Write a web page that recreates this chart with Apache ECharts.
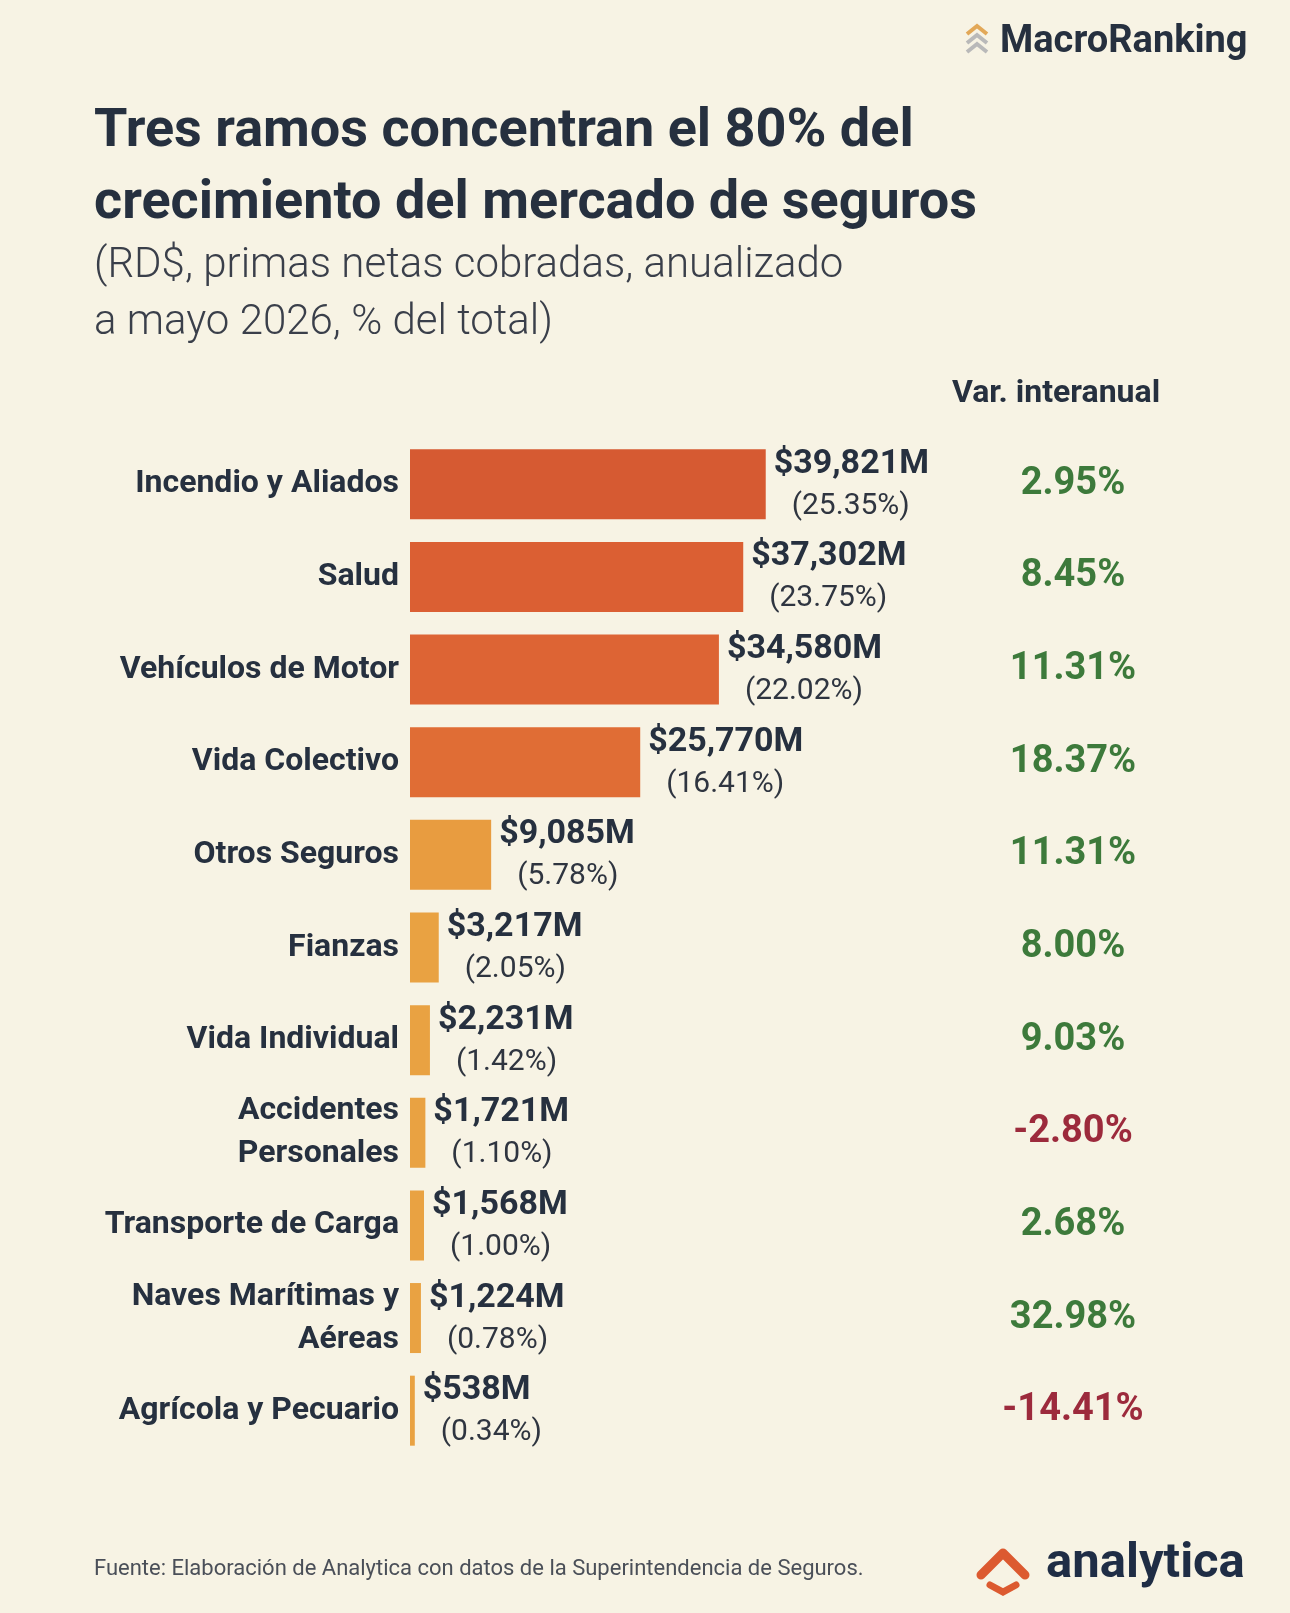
<!DOCTYPE html>
<html>
<head>
<meta charset="utf-8">
<script src="https://cdn.jsdelivr.net/npm/echarts@6/dist/echarts.min.js"></script>
<style>
  html, body { margin: 0; padding: 0; background: #f7f3e4; }
  #charts { width: 1290px; height: 1613px; }
</style>
</head>
<body>
<div id="charts"></div>
<script>
var categories = ['Incendio y Aliados', 'Salud', 'Vehículos de Motor', 'Vida Colectivo', 'Otros Seguros', 'Fianzas',
    'Vida Individual', 'Accidentes\nPersonales', 'Transporte de Carga', 'Naves Marítimas y\nAéreas', 'Agrícola y Pecuario'];
var primas = [39821, 37302, 34580, 25770, 9085, 3217, 2231, 1721, 1568, 1224, 538];
var shares = ['25.35', '23.75', '22.02', '16.41', '5.78', '2.05', '1.42', '1.10', '1.00', '0.78', '0.34'];
var variacion = ['2.95%', '8.45%', '11.31%', '18.37%', '11.31%', '8.00%', '9.03%', '-2.80%', '2.68%', '32.98%', '-14.41%'];
var barColors = ['#d65a32', '#db5f33', '#dd6434', '#e06d35', '#e89c40', '#e9a242', '#e9a242', '#e9a242', '#e9a242', '#e9a242', '#e9a242'];

var myChart = echarts.init(document.getElementById('charts'));

var option = {
    backgroundColor: '#f7f3e4',
    textStyle: { fontFamily: 'Roboto' },
    graphic: [
        { type: 'text', left: 94, top: 96, style: { text: 'Tres ramos concentran el 80% del\ncrecimiento del mercado de seguros', font: 'bold 54px Roboto', fill: '#26303f', lineHeight: 72 } },
        { type: 'text', left: 94, top: 238, style: { text: '(RD$, primas netas cobradas, anualizado\na mayo 2026, % del total)', font: '300 42px Roboto', fill: '#3a3f4a', lineHeight: 57 } },
        { type: 'text', left: 952, top: 378, style: { text: 'Var. interanual', font: 'bold 32px Roboto', fill: '#26303f' } },
        { type: 'text', left: 1000, top: 23, style: { text: 'MacroRanking', font: 'bold 38px Roboto', fill: '#26303f' } },
        { type: 'polyline', shape: { points: [[967, 34], [977, 26], [987, 34]] }, style: { stroke: '#e2a858', lineWidth: 4, fill: null } },
        { type: 'polyline', shape: { points: [[967, 43], [977, 35], [987, 43]] }, style: { stroke: '#b9b9b9', lineWidth: 4, fill: null } },
        { type: 'polyline', shape: { points: [[967, 52], [977, 44], [987, 52]] }, style: { stroke: '#b9b9b9', lineWidth: 4, fill: null } },
        { type: 'text', left: 94, top: 1558, style: { text: 'Fuente: Elaboración de Analytica con datos de la Superintendencia de Seguros.', font: '22px Roboto', fill: '#4a4f58' } },
        { type: 'text', left: 1046, top: 1540, style: { text: 'analytica', font: 'bold 49px Roboto', fill: '#1f2d45' } },
        { type: 'polyline', shape: { points: [[981, 1575], [1003, 1553], [1025, 1575]] }, style: { stroke: '#dc5a30', lineWidth: 9, fill: null, lineJoin: 'round', lineCap: 'round' } },
        { type: 'polyline', shape: { points: [[990, 1585], [1003, 1592], [1016, 1585]] }, style: { stroke: '#dc5a30', lineWidth: 7, fill: null, lineCap: 'round' } }
    ],
    grid: { left: 410, top: 438, width: 536, height: 1019 },
    xAxis: { type: 'value', min: 0, max: 60000, show: false },
    yAxis: [
        {
            type: 'category', inverse: true, data: categories,
            axisLine: { show: false }, axisTick: { show: false },
            axisLabel: { fontSize: 32, fontWeight: 'bold', color: '#26303f', margin: 11, lineHeight: 43 }
        },
        {
            type: 'category', inverse: true, position: 'right', data: variacion,
            axisLine: { show: false }, axisTick: { show: false },
            axisLabel: {
                margin: 127, align: 'center', fontSize: 38, fontWeight: 'bold',
                color: function (v) { return v.charAt(0) === '-' ? '#9c2a3c' : '#3d7a3b'; }
            }
        }
    ],
    series: [{
        type: 'bar', barWidth: 70,
        data: primas.map(function (v, i) { return { value: v, itemStyle: { color: barColors[i] } }; }),
        label: {
            show: true, position: 'right', distance: 8,
            formatter: function (p) {
                return '{v|$' + p.value.toLocaleString('en-US') + 'M}\n{s|(' + shares[p.dataIndex] + '%)}';
            },
            rich: {
                v: { fontSize: 34, fontWeight: 'bold', color: '#26303f', lineHeight: 44 },
                s: { fontSize: 30, color: '#2f3540', lineHeight: 40, padding: [0, 0, 0, 18] }
            }
        }
    }]
};
myChart.setOption(option);
</script>
</body>
</html>
